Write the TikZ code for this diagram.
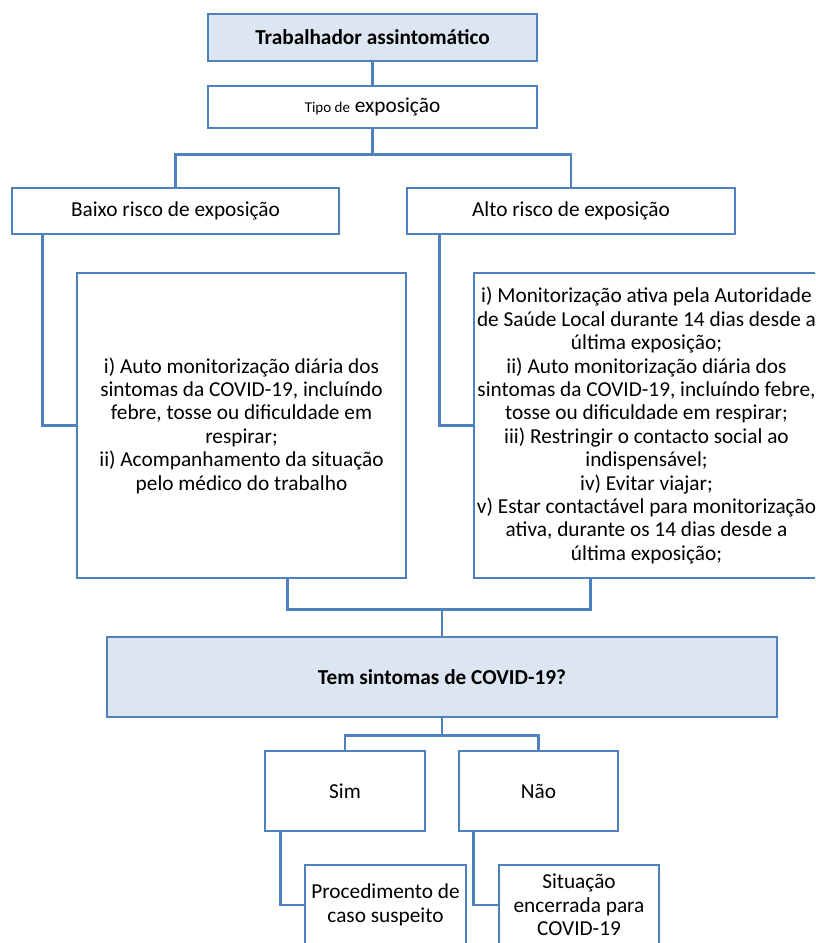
\documentclass[tikz,border=0pt]{standalone}
\usepackage{fontspec}
\setmainfont{Carlito}
\usetikzlibrary{positioning, calc}
\definecolor{boxblue}{RGB}{79,129,189}
\definecolor{headfill}{RGB}{220,230,242}

\begin{document}
\begin{tikzpicture}[
    x=1pt, y=-1pt,
    % Block styles
    flowbox/.style={
        rectangle, draw=boxblue, fill=white,
        text=black, font=\fontsize{21.3}{23.4}\selectfont,
        align=center, inner sep=0pt,
        line width=2.6pt
    },
    headbox/.style={
        flowbox, fill=headfill,
        font=\fontsize{21.3}{23.4}\selectfont\bfseries
    },
    link/.style={
        line width=2.6pt, color=boxblue
    },
]

\useasboundingbox (0,0) rectangle (815,943);
\clip (0,0) rectangle (815,943);

% ===== WORKER =====
\node[headbox, minimum width=329pt, minimum height=47pt] (worker) at (372.5,37.5) {Trabalhador assintomático};
\node[flowbox, minimum width=329pt, minimum height=42pt, below=22.4pt of worker] (tipo) {{\fontsize{15}{18}\selectfont Tipo de} exposição};

% ===== RISK LEVELS =====
\node[flowbox, minimum width=327pt, minimum height=46pt] (baixo) at (175.5,211) {Baixo risco de exposição};
\node[flowbox, minimum width=328pt, minimum height=46pt] (alto) at (571,211) {Alto risco de exposição};

% ===== MEASURES =====
\node[flowbox, minimum width=329pt, minimum height=305pt] (lowcare) at (241.5,425.5) {i) Auto monitorização diária dos\\sintomas da COVID-19, incluíndo\\febre, tosse ou dificuldade em\\respirar;\\ii) Acompanhamento da situação\\pelo médico do trabalho};
\node[flowbox, minimum width=345pt, minimum height=305pt] (highcare) at (646.5,425.5) {i) Monitorização ativa pela Autoridade\\de Saúde Local durante 14 dias desde a\\última exposição;\\ii) Auto monitorização diária dos\\sintomas da COVID-19, incluíndo febre,\\tosse ou dificuldade em respirar;\\iii) Restringir o contacto social ao\\indispensável;\\iv) Evitar viajar;\\v) Estar contactável para monitorização\\ativa, durante os 14 dias desde a\\última exposição;};

% ===== SYMPTOMS =====
\node[headbox, minimum width=670pt, minimum height=80pt] (sintomas) at (442,677) {Tem sintomas de COVID-19?};

\node[flowbox, minimum width=160pt, minimum height=80pt] (sim) at (345,791) {Sim};
\node[flowbox, minimum width=159pt, minimum height=80pt] (nao) at (538.5,791) {Não};

% ===== OUTCOMES =====
\node[flowbox, minimum width=161pt, minimum height=80pt] (proc) at (385.5,905) {Procedimento de\\caso suspeito};
\node[flowbox, minimum width=160pt, minimum height=80pt] (sit) at (579,905) {Situação\\encerrada para\\COVID-19};

% ===== CONNECTORS =====
\draw[link] (worker) -- (tipo);
\draw[link] (tipo.south) -- ++(0,25) -| (baixo.north);
\draw[link] (tipo.south) -- ++(0,25) -| (alto.north);

\draw[link] ($(baixo.south west)+(32,0)$) |- (lowcare.west);
\draw[link] ($(alto.south west)+(34,0)$) |- (highcare.west);

\coordinate (join) at ($(sintomas.north)+(0,-26)$);
\draw[link] ($(lowcare.south west)+(212,0)$) |- (join);
\draw[link] ($(highcare.south west)+(118,0)$) |- (join);
\draw[link] (join) -- (sintomas.north);

\draw[link] (sintomas.south) -- ++(0,17) -| (sim.north);
\draw[link] (sintomas.south) -- ++(0,17) -| (nao.north);

\draw[link] ($(sim.south west)+(17,0)$) |- (proc.west);
\draw[link] ($(nao.south west)+(16,0)$) |- (sit.west);

\end{tikzpicture}
\end{document}
